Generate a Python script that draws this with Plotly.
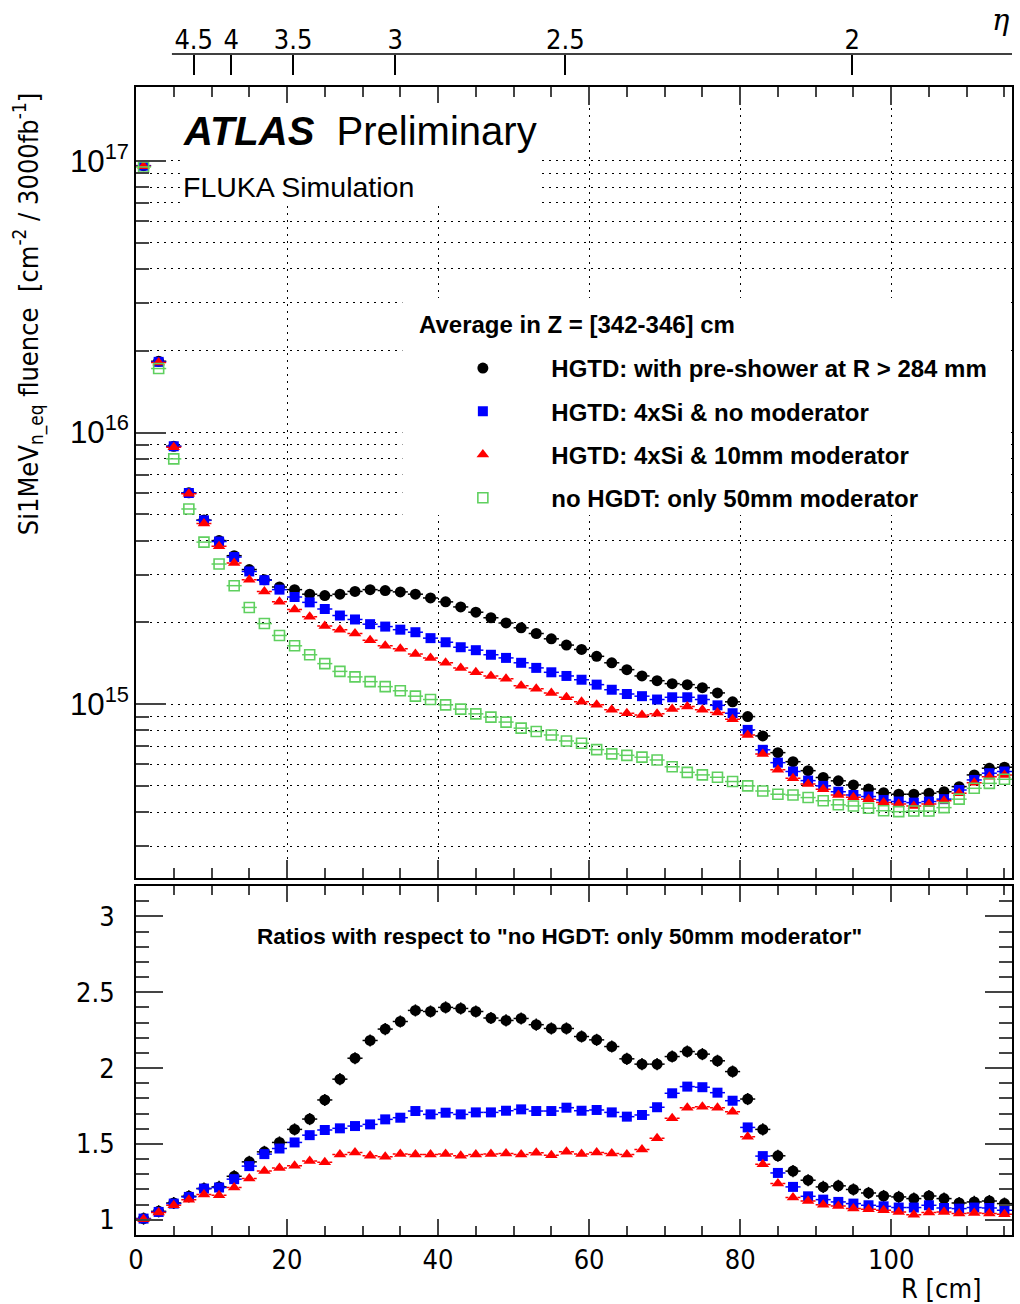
import numpy as np
import plotly.graph_objects as go

# radial bin centres [cm]
r_cm = [1, 3, 5, 7, 9, 11, 13, 15, 17, 19, 21, 23, 25, 27, 29, 31, 33, 35, 37, 39,
        41, 43, 45, 47, 49, 51, 53, 55, 57, 59, 61, 63, 65, 67, 69, 71, 73, 75, 77, 79,
        81, 83, 85, 87, 89, 91, 93, 95, 97, 99, 101, 103, 105, 107, 109, 111, 113, 115]

# Si 1MeV n_eq fluence [cm^-2 / 3000 fb^-1]
fl_preshower = [9.6e16, 1.83e16, 8.9e15, 6.0e15, 4.76e15, 4.0e15, 3.52e15, 3.13e15, 2.87e15, 2.70e15,
                2.64e15, 2.54e15, 2.51e15, 2.54e15, 2.60e15, 2.64e15, 2.62e15, 2.59e15, 2.54e15, 2.46e15,
                2.38e15, 2.28e15, 2.18e15, 2.08e15, 1.99e15, 1.91e15, 1.82e15, 1.74e15, 1.65e15, 1.59e15,
                1.50e15, 1.42e15, 1.34e15, 1.27e15, 1.22e15, 1.19e15, 1.18e15, 1.15e15, 1.10e15, 1.02e15,
                9.0e14, 7.64e14, 6.63e14, 6.14e14, 5.69e14, 5.37e14, 5.22e14, 5.04e14, 4.87e14, 4.72e14,
                4.66e14, 4.66e14, 4.70e14, 4.76e14, 4.97e14, 5.49e14, 5.81e14, 5.86e14]
fl_4si_nomod = [9.6e16, 1.82e16, 8.9e15, 5.99e15, 4.75e15, 3.97e15, 3.48e15, 3.08e15, 2.86e15, 2.64e15,
                2.48e15, 2.37e15, 2.24e15, 2.12e15, 2.05e15, 1.97e15, 1.93e15, 1.88e15, 1.84e15, 1.75e15,
                1.69e15, 1.62e15, 1.58e15, 1.52e15, 1.48e15, 1.42e15, 1.36e15, 1.31e15, 1.27e15, 1.23e15,
                1.18e15, 1.13e15, 1.09e15, 1.07e15, 1.04e15, 1.06e15, 1.06e15, 1.04e15, 9.9e14, 9.26e14,
                8.04e14, 6.79e14, 6.09e14, 5.65e14, 5.23e14, 5.0e14, 4.76e14, 4.63e14, 4.57e14, 4.44e14,
                4.38e14, 4.34e14, 4.38e14, 4.47e14, 4.83e14, 5.26e14, 5.57e14, 5.65e14]
fl_4si_10mm = [9.55e16, 1.81e16, 8.83e15, 5.95e15, 4.62e15, 3.81e15, 3.31e15, 2.87e15, 2.60e15, 2.38e15,
               2.23e15, 2.10e15, 1.94e15, 1.88e15, 1.82e15, 1.72e15, 1.64e15, 1.60e15, 1.53e15, 1.48e15,
               1.42e15, 1.36e15, 1.31e15, 1.27e15, 1.24e15, 1.17e15, 1.14e15, 1.10e15, 1.06e15, 1.02e15,
               9.94e14, 9.53e14, 9.26e14, 9.13e14, 9.21e14, 9.59e14, 9.80e14, 9.53e14, 9.31e14, 8.80e14,
               7.70e14, 6.56e14, 5.73e14, 5.34e14, 5.08e14, 4.86e14, 4.63e14, 4.54e14, 4.47e14, 4.34e14,
               4.29e14, 4.22e14, 4.29e14, 4.41e14, 4.70e14, 5.14e14, 5.41e14, 5.49e14]
fl_50mm_only = [9.5e16, 1.72e16, 8.0e15, 5.23e15, 3.95e15, 3.28e15, 2.73e15, 2.27e15, 1.98e15, 1.79e15,
                1.64e15, 1.52e15, 1.41e15, 1.32e15, 1.26e15, 1.21e15, 1.16e15, 1.12e15, 1.07e15, 1.04e15,
                9.94e14, 9.59e14, 9.21e14, 8.96e14, 8.59e14, 8.16e14, 7.93e14, 7.70e14, 7.32e14, 7.18e14,
                6.80e14, 6.56e14, 6.48e14, 6.38e14, 6.23e14, 5.88e14, 5.61e14, 5.49e14, 5.38e14, 5.19e14,
                5.00e14, 4.79e14, 4.66e14, 4.63e14, 4.53e14, 4.41e14, 4.26e14, 4.22e14, 4.14e14, 4.05e14,
                4.02e14, 4.04e14, 4.04e14, 4.16e14, 4.47e14, 4.90e14, 5.11e14, 5.29e14]

# ratios to "no HGDT: only 50mm moderator"
rat_preshower = [1.008, 1.056, 1.111, 1.155, 1.206, 1.217, 1.287, 1.382, 1.448, 1.51,
                 1.596, 1.664, 1.79, 1.927, 2.065, 2.182, 2.257, 2.307, 2.38, 2.373,
                 2.40, 2.393, 2.373, 2.33, 2.314, 2.327, 2.286, 2.261, 2.261, 2.208,
                 2.186, 2.142, 2.061, 2.026, 2.026, 2.076, 2.109, 2.092, 2.048, 1.977,
                 1.796, 1.596, 1.422, 1.321, 1.261, 1.217, 1.224, 1.20, 1.177, 1.157,
                 1.151, 1.14, 1.157, 1.14, 1.111, 1.118, 1.124, 1.107]
rat_4si_nomod = [1.008, 1.052, 1.107, 1.151, 1.206, 1.213, 1.268, 1.354, 1.433, 1.47,
                 1.51, 1.558, 1.592, 1.603, 1.618, 1.629, 1.662, 1.673, 1.717, 1.695,
                 1.706, 1.695, 1.708, 1.708, 1.719, 1.728, 1.717, 1.717, 1.739, 1.719,
                 1.724, 1.708, 1.68, 1.691, 1.742, 1.834, 1.878, 1.874, 1.838, 1.785,
                 1.609, 1.42, 1.309, 1.217, 1.155, 1.133, 1.118, 1.107, 1.096, 1.089,
                 1.081, 1.081, 1.096, 1.078, 1.074, 1.081, 1.078, 1.063]
rat_4si_10mm = [1.003, 1.048, 1.096, 1.133, 1.167, 1.162, 1.213, 1.272, 1.321, 1.342,
                1.356, 1.387, 1.38, 1.431, 1.444, 1.422, 1.415, 1.433, 1.431, 1.431,
                1.433, 1.422, 1.431, 1.433, 1.437, 1.431, 1.442, 1.426, 1.448, 1.433,
                1.444, 1.437, 1.431, 1.464, 1.537, 1.669, 1.739, 1.746, 1.739, 1.712,
                1.547, 1.367, 1.239, 1.147, 1.124, 1.10, 1.091, 1.074, 1.069, 1.063,
                1.052, 1.034, 1.048, 1.052, 1.041, 1.045, 1.041, 1.036]

eta_ticks = [4.5, 4, 3.5, 3, 2.5, 2]
z_mid = 344.0  # cm

names = ['HGTD: with pre-shower at R > 284 mm', 'HGTD: 4xSi & no moderator',
         'HGTD: 4xSi & 10mm moderator', 'no HGDT: only 50mm moderator']

FONT = 'Liberation Sans, Arial, sans-serif'
NARROW = 'Liberation Sans Narrow, Arial Narrow, DejaVu Sans Condensed, Liberation Sans, sans-serif'
GREEN = '#5fd05f'

# pixel geometry helpers (page 1020x1304)
L, R_, T, B = 136, 6, 54, 69
W, H = 1020 - L - R_, 1304 - T - B
def px(x):
    return (x - L) / W
def py(y):
    return (1235 - y) / H
def ydom(y):  # fraction of the top panel height
    return (878 - y) / 791

fig = go.Figure()

def xbar(col, lw=1.5):
    return dict(type='constant', value=1, width=0, thickness=lw, color=col)

def dashed_bars(xs, ys, col, xa, ya):
    sx, sy = [], []
    for x, y in zip(xs, ys):
        sx += [x - 1, x + 1, None]
        sy += [y, y, None]
    return go.Scatter(x=sx, y=sy, mode='lines', line=dict(color=col, width=1.5, dash='3px,3px'),
                      xaxis=xa, yaxis=ya, showlegend=False, hoverinfo='skip')

# top panel
fig.add_trace(go.Scatter(x=r_cm, y=fl_preshower, mode='markers', name=names[0], legendgroup='a',
                         marker=dict(symbol='circle', size=11, color='black'),
                         error_x=xbar('black'), xaxis='x', yaxis='y'))
fig.add_trace(go.Scatter(x=r_cm, y=fl_4si_nomod, mode='markers', name=names[1], legendgroup='b',
                         marker=dict(symbol='square', size=10, color='#0000ff'),
                         error_x=xbar('#0000ff'), xaxis='x', yaxis='y'))
fig.add_trace(dashed_bars(r_cm, fl_4si_10mm, '#ff0000', 'x', 'y'))
fig.add_trace(go.Scatter(x=r_cm, y=fl_4si_10mm, mode='markers', name=names[2], legendgroup='c',
                         marker=dict(symbol='triangle-up', size=11, color='#ff0000'),
                         xaxis='x', yaxis='y'))
fig.add_trace(go.Scatter(x=r_cm, y=fl_50mm_only, mode='markers', name=names[3], legendgroup='d',
                         marker=dict(symbol='square-open', size=10, color=GREEN, line=dict(width=1.6, color=GREEN)),
                         error_x=xbar(GREEN), xaxis='x', yaxis='y'))

# ratio panel
fig.add_trace(go.Scatter(x=r_cm, y=rat_preshower, mode='markers', showlegend=False,
                         marker=dict(symbol='circle', size=11, color='black'),
                         error_x=xbar('black'),
                         error_y=dict(type='constant', value=0.04, width=0, thickness=1.5, color='black'),
                         xaxis='x2', yaxis='y2'))
fig.add_trace(go.Scatter(x=r_cm, y=rat_4si_nomod, mode='markers', showlegend=False,
                         marker=dict(symbol='square', size=10, color='#0000ff'),
                         error_x=xbar('#0000ff'), xaxis='x2', yaxis='y2'))
fig.add_trace(dashed_bars(r_cm, rat_4si_10mm, '#ff0000', 'x2', 'y2'))
fig.add_trace(go.Scatter(x=r_cm, y=rat_4si_10mm, mode='markers', showlegend=False,
                         marker=dict(symbol='triangle-up', size=11, color='#ff0000'),
                         xaxis='x2', yaxis='y2'))

# eta axis carrier
fig.add_trace(go.Scatter(x=[], y=[], xaxis='x3', yaxis='y', showlegend=False))

eta_r = [z_mid * np.tan(2 * np.arctan(np.exp(-e))) for e in eta_ticks]

tickfont_n = dict(family=NARROW, size=27, color='black')
grid_dash = '2px,5px'

fig.update_layout(
    width=1020, height=1304,
    margin=dict(l=L, r=R_, t=T, b=B),
    paper_bgcolor='white', plot_bgcolor='rgba(0,0,0,0)',
    font=dict(family=FONT, color='black'),
    showlegend=True,
    legend=dict(x=px(415), y=py(346), xanchor='left', yanchor='top',
                bgcolor='rgba(0,0,0,0)', borderwidth=0,
                font=dict(size=24, family=FONT, weight='bold'), itemwidth=127, tracegroupgap=9),
    xaxis=dict(domain=[0, 1], anchor='y', range=[0, 116], showticklabels=False,
               ticks='inside', ticklen=18, tickwidth=1.5, dtick=20, tick0=0,
               minor=dict(ticks='inside', ticklen=10, dtick=5, tick0=0, tickwidth=1.5, showgrid=False),
               showline=True, linewidth=2, linecolor='black', mirror='ticks',
               showgrid=True, gridcolor='black', gridwidth=1, griddash=grid_dash, zeroline=False),
    yaxis=dict(domain=[py(878), py(87)], anchor='x', type='log', range=[14.36, 17.272],
               dtick=1, exponentformat='power', showexponent='all',
               ticks='inside', ticklen=30, tickwidth=1.5, ticklabelstandoff=0,
               tickfont=dict(family=FONT, size=25, color='black'),
               minor=dict(ticks='inside', ticklen=13, tickwidth=1.5, dtick='D1', showgrid=True,
                          gridcolor='black', gridwidth=1, griddash=grid_dash),
               showline=True, linewidth=2, linecolor='black', mirror=True,
               showgrid=True, gridcolor='black', gridwidth=1, griddash=grid_dash, zeroline=False),
    xaxis2=dict(domain=[0, 1], anchor='y2', range=[0, 116], matches='x',
                ticks='inside', ticklen=16, tickwidth=1.5, dtick=20, tick0=0, tickfont=tickfont_n,
                minor=dict(ticks='inside', ticklen=9, dtick=5, tick0=0, tickwidth=1.5),
                showline=True, linewidth=2, linecolor='black', mirror='ticks',
                showgrid=False, zeroline=False),
    yaxis2=dict(domain=[0, py(886)], anchor='x2', range=[0.9, 3.2],
                tickvals=[1, 1.5, 2, 2.5, 3], ticktext=['1', '1.5', '2', '2.5', '3'],
                ticks='inside', ticklen=27, tickwidth=1.5, tickfont=tickfont_n, ticklabelstandoff=14,
                minor=dict(ticks='inside', ticklen=13, dtick=0.1, tick0=0, tickwidth=1.5),
                showline=True, linewidth=2, linecolor='black', mirror='ticks',
                showgrid=False, zeroline=False),
    xaxis3=dict(overlaying='x', anchor='free', position=1, side='top', range=[0, 116],
                tickvals=eta_r, ticktext=[str(e) for e in eta_ticks], ticks='inside', ticklen=20,
                tickwidth=1.5, tickcolor='black', tickfont=tickfont_n, showline=False,
                showgrid=False, zeroline=False),
)

shapes = [
    # white boxes behind the label and legend (no data falls inside them)
    dict(type='rect', xref='x domain', yref='y domain', x0=px(180), x1=px(541),
         y0=ydom(206), y1=ydom(103), fillcolor='white', line=dict(width=0), layer='above'),
    dict(type='rect', xref='x domain', yref='y domain', x0=px(403), x1=px(1011),
         y0=ydom(515), y1=ydom(298), fillcolor='white', line=dict(width=0), layer='above'),
    # eta axis line
    dict(type='line', xref='paper', yref='paper', x0=px(172), x1=1, y0=1, y1=1,
         line=dict(color='black', width=1.5)),
]
fig.update_layout(shapes=shapes)

ann = [
    dict(text='<b><i>ATLAS</i></b>&nbsp;&nbsp;Preliminary', x=px(181), y=py(131), xanchor='left', yanchor='middle',
         font=dict(size=40, family=FONT)),
    dict(text='FLUKA Simulation', x=px(181), y=py(187), xanchor='left', yanchor='middle',
         font=dict(size=28.5, family=FONT)),
    dict(text='<b>Average in Z = [342-346] cm</b>', x=px(418), y=py(325), xanchor='left', yanchor='middle',
         font=dict(size=24, family=FONT)),
    dict(text='<b>Ratios with respect to "no HGDT: only 50mm moderator"</b>', x=px(560), y=py(936),
         xanchor='center', yanchor='middle', font=dict(size=22.5, family=FONT)),
    dict(text='R [cm]', x=px(986), y=py(1288), xanchor='right', yanchor='middle',
         font=dict(size=27, family=NARROW)),
    dict(text='<i>η</i>', x=px(1003), y=py(20), xanchor='center', yanchor='middle',
         font=dict(size=29, family='DejaVu Serif, Liberation Serif, serif')),
    dict(text='Si1MeV<sub>n_eq</sub> fluence  [cm<sup>-2</sup> / 3000fb<sup>-1</sup>]',
         x=px(28), y=py(314), xanchor='center', yanchor='middle', textangle=-90,
         font=dict(size=27, family=NARROW)),
]
for a in ann:
    a.update(xref='paper', yref='paper', showarrow=False)
fig.update_layout(annotations=ann)

fig.write_html('out.html', config={'displayModeBar': False},
               post_script="document.body.style.margin='0px';")
